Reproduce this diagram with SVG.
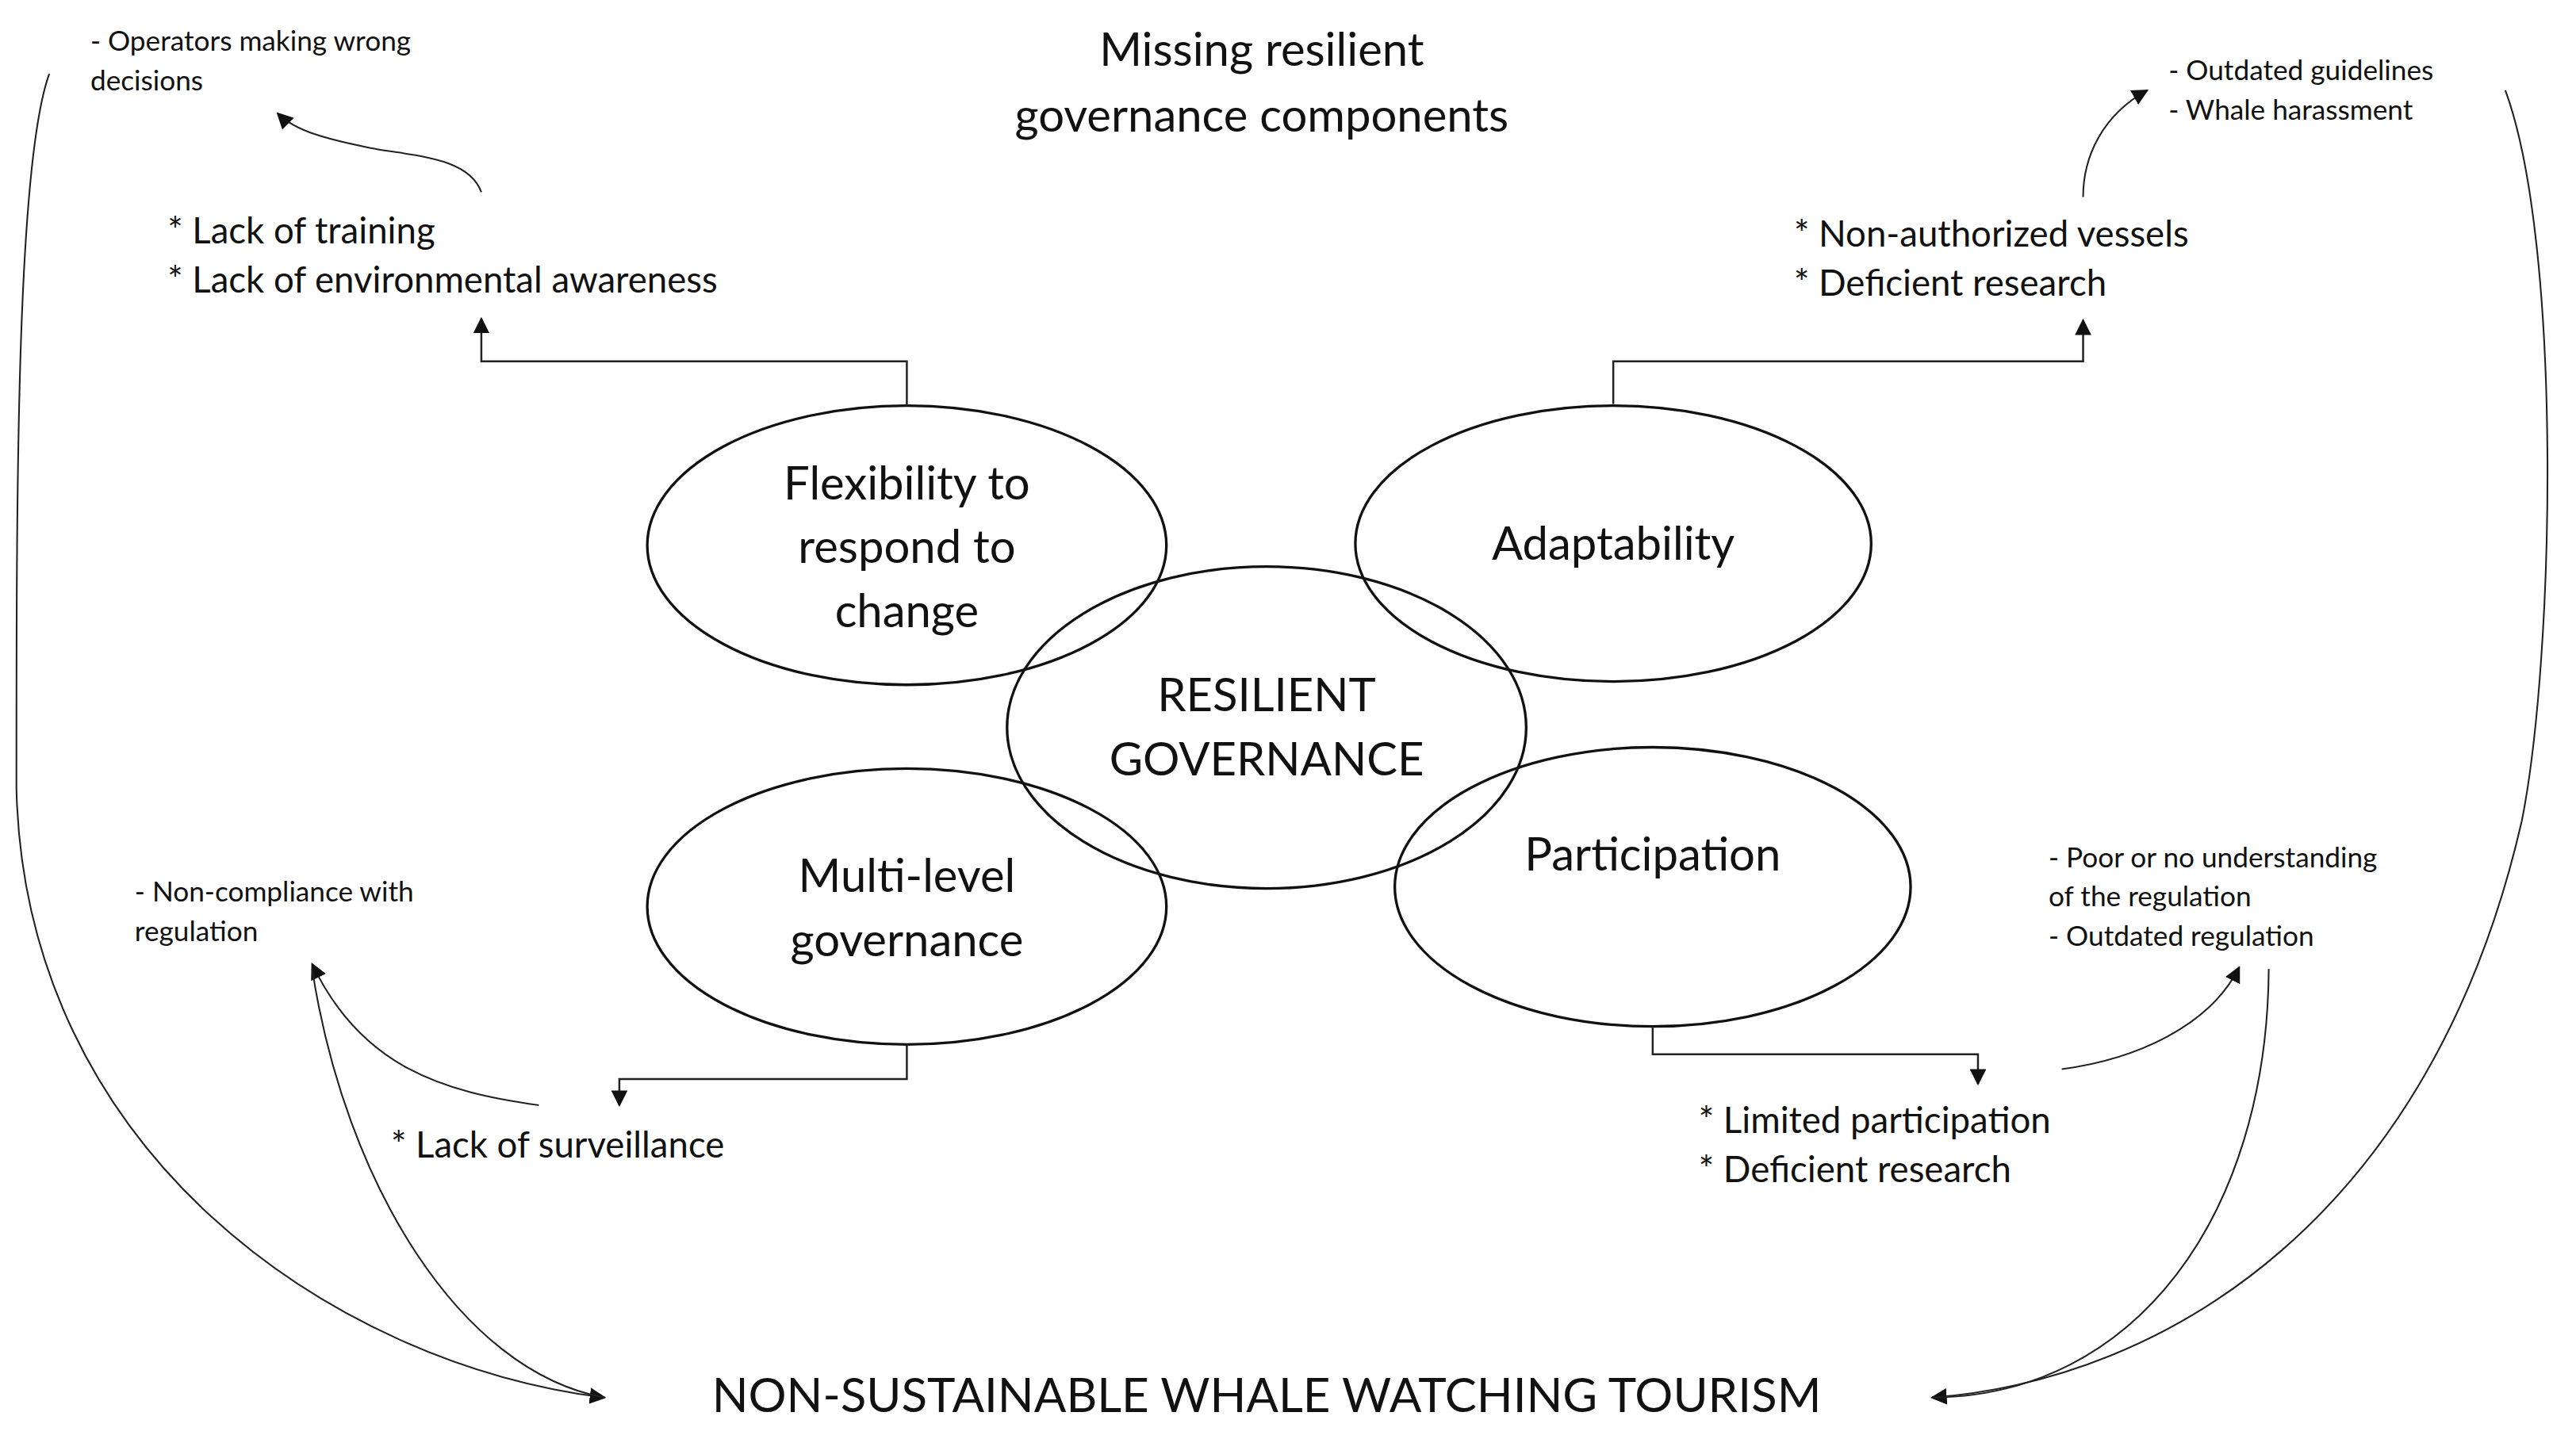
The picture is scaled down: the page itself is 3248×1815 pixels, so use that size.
<svg xmlns="http://www.w3.org/2000/svg" width="3248" height="1815" viewBox="0 0 3248 1815">
<style>
text{font-family:Lato,"Open Sans",sans-serif;fill:#111}
.big{font-size:28px}.mid{font-size:22px}.sm{font-size:17px}.bot{font-size:29px}
ellipse{fill:none;stroke:#111;stroke-width:1.6}
.c path{fill:none;stroke:#222;stroke-width:1}
.c .e{stroke-width:1.2}
</style>
<defs><marker id="a" viewBox="0 0 10 10" refX="9" refY="5" markerWidth="10" markerHeight="10" markerUnits="userSpaceOnUse" orient="auto"><path d="M0,0L10,5L0,10z" fill="#111"/></marker></defs>
<rect width="3248" height="1815" fill="#fff"/>
<g transform="scale(2.0714)">
<g id="title"><text class="big" x="768" y="40" text-anchor="middle">Missing resilient</text><text class="big" x="768" y="80" text-anchor="middle">governance components</text></g>
<g id="flex"><ellipse cx="552" cy="332" rx="158" ry="85"/><text class="big" text-anchor="middle" x="552" y="304">Flexibility to</text><text class="big" text-anchor="middle" x="552" y="343">respond to</text><text class="big" text-anchor="middle" x="552" y="382">change</text></g>
<g id="adapt"><ellipse cx="982" cy="331" rx="157" ry="84"/><text class="big" text-anchor="middle" x="982" y="341">Adaptability</text></g>
<g id="resilient"><ellipse cx="771" cy="443" rx="158" ry="98"/><text class="big" text-anchor="middle" x="771" y="433">RESILIENT</text><text class="big" text-anchor="middle" x="771" y="472">GOVERNANCE</text></g>
<g id="multi"><ellipse cx="552" cy="552" rx="158" ry="84"/><text class="big" text-anchor="middle" x="552" y="543">Multi-level</text><text class="big" text-anchor="middle" x="552" y="582">governance</text></g>
<g id="part"><ellipse cx="1006" cy="540" rx="157" ry="85"/><text class="big" text-anchor="middle" x="1006" y="530">Participation</text></g>
<g id="t1"><text class="mid" x="102" y="148">* Lack of training</text><text class="mid" x="102" y="178">* Lack of environmental awareness</text></g>
<g id="t2"><text class="sm" x="55" y="31">- Operators making wrong</text><text class="sm" x="55" y="55">decisions</text></g>
<g id="t3"><text class="mid" x="1092" y="150">* Non-authorized vessels</text><text class="mid" x="1092" y="180">* Deficient research</text></g>
<g id="t4"><text class="sm" x="1320" y="49">- Outdated guidelines</text><text class="sm" x="1320" y="73">- Whale harassment</text></g>
<g id="t5"><text class="mid" x="238" y="705">* Lack of surveillance</text></g>
<g id="t6"><text class="sm" x="82" y="549">- Non-compliance with</text><text class="sm" x="82" y="573">regulation</text></g>
<g id="t7"><text class="mid" x="1034" y="690">* Limited participation</text><text class="mid" x="1034" y="720">* Deficient research</text></g>
<g id="t8"><text class="sm" x="1247" y="528">- Poor or no understanding</text><text class="sm" x="1247" y="552">of the regulation</text><text class="sm" x="1247" y="576">- Outdated regulation</text></g>
<g id="bottom"><text class="bot" x="771" y="860" text-anchor="middle">NON-SUSTAINABLE WHALE WATCHING TOURISM</text></g>
<g class="c" id="connectors">
<path class="e" d="M552,247V220H293V194" marker-end="url(#a)"/>
<path class="e" d="M982,246V220H1268V195" marker-end="url(#a)"/>
<path class="e" d="M552,636V657H377V673" marker-end="url(#a)"/>
<path class="e" d="M1006,625V642H1204V660" marker-end="url(#a)"/>
<path d="M293,117C285,95 250,95 225,90C200,85 180,80 169,69" marker-end="url(#a)"/>
<path d="M1268,120C1268,95 1280,70 1307,55" marker-end="url(#a)"/>
<path d="M328,673C270,665 220,650 190,587" marker-end="url(#a)"/>
<path d="M1255,651C1300,645 1345,625 1363,589" marker-end="url(#a)"/>
<path d="M30,45C10,100 10,300 10,480C15,700 200,830 368,851" marker-end="url(#a)"/>
<path d="M190,590C210,720 280,835 368,851"/>
<path d="M1525,55C1560,150 1555,400 1535,500C1480,740 1320,840 1176,851" marker-end="url(#a)"/>
<path d="M1381,590C1380,740 1300,850 1176,851"/>
</g>
</g>
</svg>
